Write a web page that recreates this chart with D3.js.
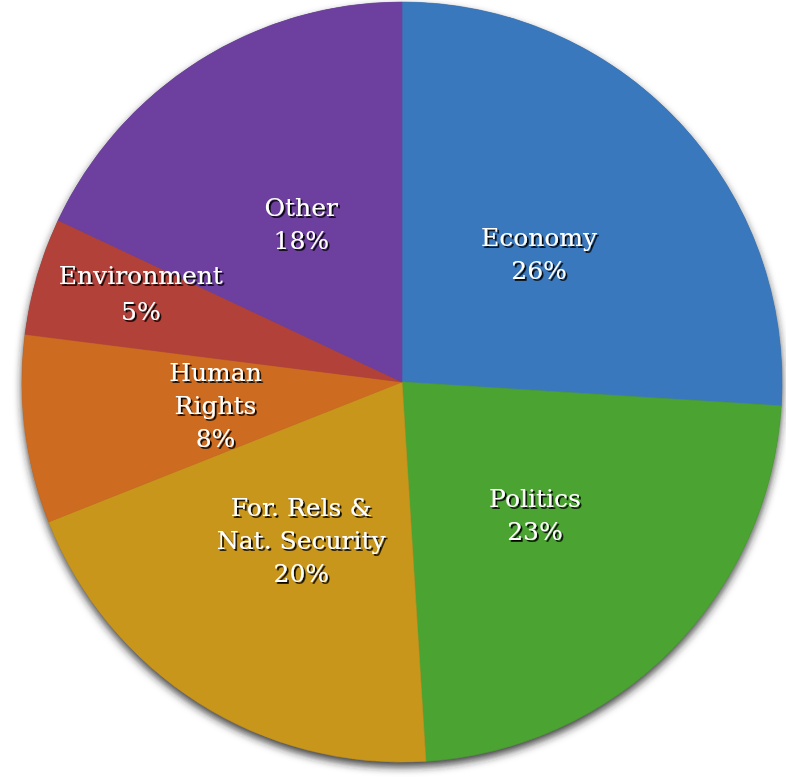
<!DOCTYPE html>
<html>
<head>
<meta charset="utf-8">
<script src="https://cdn.jsdelivr.net/npm/d3@7"></script>
<style>
  html, body { margin: 0; padding: 0; background: #fff; }
  svg { display: block; }
  .label { font-family: Georgia, "DejaVu Serif", serif; font-size: 25px; fill: #fff; }
</style>
</head>
<body>
<script>
// slice data, clockwise from 12 o'clock
var categories = ["Economy", "Politics", "For. Rels &\nNat. Security", "Human\nRights", "Environment", "Other"];
var shares = [26, 23, 20, 8, 5, 18];
var colors = ["#3a78bd", "#4ba332", "#c9961c", "#cd6c20", "#b2413a", "#6d40a0"];

var width = 786, height = 779;
var cx = 402, cy = 382, radius = 380;

var svg = d3.select("body").append("svg")
    .attr("width", width)
    .attr("height", height);

var defs = svg.append("defs");

// soft drop shadow under the pie
var pieShadow = defs.append("filter")
    .attr("id", "pieShadow")
    .attr("x", "-10%").attr("y", "-10%")
    .attr("width", "120%").attr("height", "120%");
pieShadow.append("feDropShadow")
    .attr("dx", 0).attr("dy", 5)
    .attr("stdDeviation", 4)
    .attr("flood-color", "#222")
    .attr("flood-opacity", 0.85);

// dark embossed shadow on the labels
var textShadow = defs.append("filter")
    .attr("id", "textShadow")
    .attr("x", "-20%").attr("y", "-20%")
    .attr("width", "140%").attr("height", "140%");
textShadow.append("feDropShadow")
    .attr("dx", 1.8).attr("dy", 1.8)
    .attr("stdDeviation", 0.6)
    .attr("flood-color", "#000")
    .attr("flood-opacity", 0.95);

var g = svg.append("g")
    .attr("transform", "translate(" + cx + "," + cy + ")");

var pie = d3.pie().sort(null).value(function(d) { return d.value; });

var data = categories.map(function(c, i) {
  return { name: c, value: shares[i], color: colors[i] };
});

var arcs = pie(data);

var arc = d3.arc().innerRadius(0).outerRadius(radius);

// shadow layer (full disc) then the slices on top
g.append("circle")
    .attr("r", radius)
    .attr("fill", "#555")
    .attr("filter", "url(#pieShadow)");

g.selectAll("path.slice")
    .data(arcs)
  .enter().append("path")
    .attr("class", "slice")
    .attr("d", arc)
    .attr("fill", function(d) { return d.data.color; })
    .attr("stroke", function(d) { return d.data.color; })
    .attr("stroke-width", 0.6);

// labels sit about half way out; the thin Environment slice gets pushed further out
var labelArc = d3.arc().innerRadius(188).outerRadius(188);
var outerLabelArc = d3.arc().innerRadius(272).outerRadius(272);
var lineHeight = 33;

var labels = g.selectAll("text.label")
    .data(arcs)
  .enter().append("text")
    .attr("class", "label")
    .attr("text-anchor", "middle")
    .attr("filter", "url(#textShadow)")
    .attr("transform", function(d) {
      var p;
      if (d.data.name === "Environment") {
        p = outerLabelArc.centroid(d);
        p[1] -= 13;
      } else {
        p = labelArc.centroid(d);
      }
      return "translate(" + p[0] + "," + p[1] + ")";
    });

labels.each(function(d) {
  var lines = d.data.name.split("\n").concat([d.data.value + "%"]);
  var t = d3.select(this);
  var lh = d.data.name === "Environment" ? 36 : lineHeight;
  var top = -(lines.length - 1) * lh / 2;
  lines.forEach(function(line, i) {
    t.append("tspan")
      .attr("x", 0)
      .attr("y", top + i * lh)
      .attr("dy", "0.35em")
      .text(line);
  });
});
</script>
</body>
</html>
